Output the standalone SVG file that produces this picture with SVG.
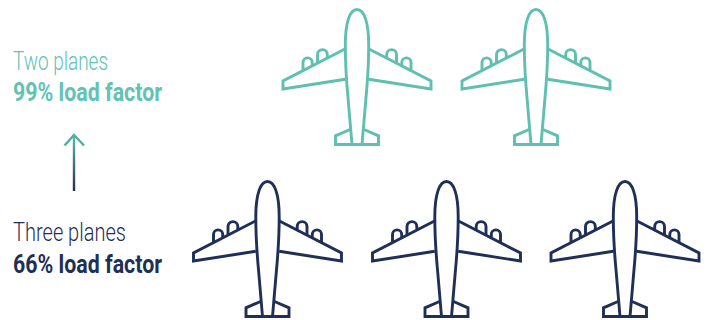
<svg xmlns="http://www.w3.org/2000/svg" width="707" height="320" viewBox="0 0 707 320">
<style>
.p{fill:none;stroke-width:2.9;stroke-linejoin:miter}
.teal{stroke:#5fbfb0}
.navy{stroke:#1f2f56}
.t{font-family:"Roboto","Liberation Sans",sans-serif;font-size:25px}
.l{font-weight:300}
.b{font-weight:700}
.tt{fill:#62c2b3}
.tn{fill:#1f2f56}
</style>
<defs>
<linearGradient id="ag" gradientUnits="userSpaceOnUse" x1="74" y1="191" x2="74" y2="134">
<stop offset="0" stop-color="#1f2f56"/><stop offset="1" stop-color="#5fbfb0"/>
</linearGradient>
<g id="plane">
<path d="M352,144.5 L348.2,100 C346.5,82 345.3,65 345.3,45 C345.3,22 350,9.5 357,9.5 C364,9.5 368.7,22 368.7,45 C368.7,65 367.5,82 365.8,100 L362,144.5 Z"/>
<path d="M345,49 L283,81 L283,89 L345.3,79.3"/>
<path d="M369,49 L431,81 L431,89 L368.7,79.3"/>
<path d="M303,70 V62.5 A4.6,4.6 0 0 1 312.2,62.5 V65"/>
<path d="M317.5,62.5 V54.5 A4.9,4.9 0 0 1 327.3,54.5 V57.5"/>
<path d="M411,70 V62.5 A4.6,4.6 0 0 0 401.8,62.5 V65"/>
<path d="M396.5,62.5 V54.5 A4.9,4.9 0 0 0 386.7,54.5 V57.5"/>
<path d="M350,129.5 L335.5,135.8 L335.5,144.5 L378.5,144.5 L378.5,135.8 L364,129.5"/>
</g>
</defs>
<g id="plane-teal-1" class="p teal"><use href="#plane"/></g>
<g id="plane-teal-2" class="p teal"><use href="#plane" x="179"/></g>
<g id="plane-navy-1" class="p navy"><use href="#plane" x="-89.5" y="172"/></g>
<g id="plane-navy-2" class="p navy"><use href="#plane" x="89.5" y="172"/></g>
<g id="plane-navy-3" class="p navy"><use href="#plane" x="268" y="172"/></g>
<g id="label-two">
<text class="t l tt" x="13" y="70" textLength="95" lengthAdjust="spacingAndGlyphs">Two planes</text>
<text class="t b tt" x="13" y="100.5" textLength="149" lengthAdjust="spacingAndGlyphs">99% load factor</text>
</g>
<g id="label-three">
<text class="t l tn" x="13" y="241" textLength="113" lengthAdjust="spacingAndGlyphs">Three planes</text>
<text class="t b tn" x="13" y="272.5" textLength="149" lengthAdjust="spacingAndGlyphs">66% load factor</text>
</g>
<g id="connectors" fill="none" stroke="url(#ag)" stroke-width="2.4">
<path d="M74,191 V135"/>
<path d="M64.5,145.5 L74,135 L84,145.5" stroke="#52ada3"/>
</g>
</svg>
